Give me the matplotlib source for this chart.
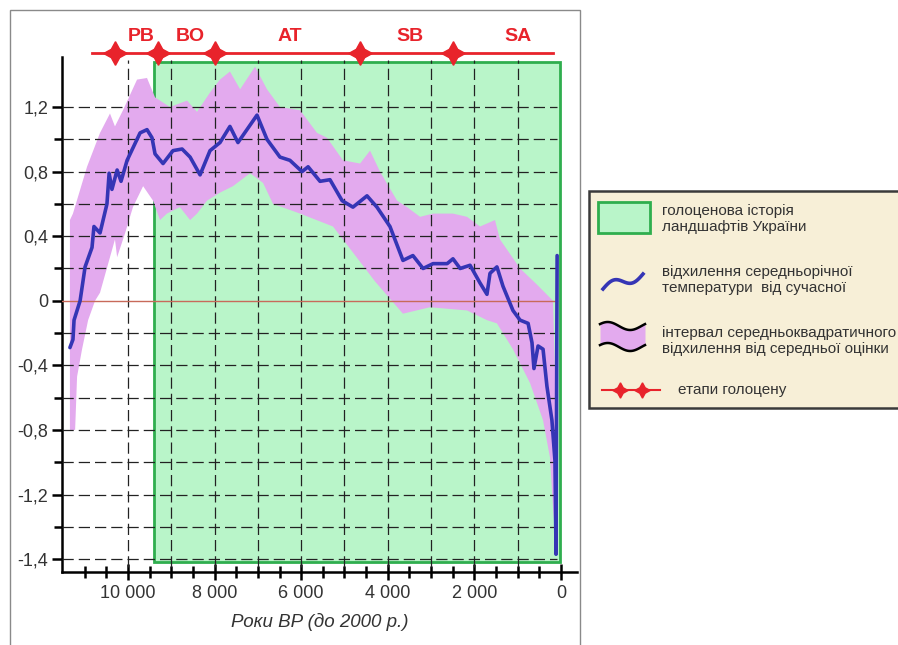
import numpy as np
import matplotlib.pyplot as plt
from matplotlib.patches import Rectangle

# mean deviation of annual temperature (years BP, deg C)
years_mean = [11340, 11270, 11245, 11105, 10990, 10830, 10785, 10645, 10485, 10435,
              10370, 10250, 10160, 10020, 9720, 9560, 9445, 9375, 9190, 8960,
              8750, 8565, 8335, 8105, 7875, 7645, 7460, 7020, 6790, 6490,
              6260, 5980, 5840, 5565, 5335, 5055, 4805, 4480, 4250, 3950,
              3650, 3420, 3185, 2955, 2630, 2495, 2330, 2100, 1870, 1710,
              1640, 1480, 1340, 1110, 945, 760, 670, 625, 530, 415,
              325, 210, 140, 115, 90]
temp_mean = [-0.29, -0.24, -0.12, 0.0, 0.21, 0.33, 0.46, 0.42, 0.60, 0.79,
             0.69, 0.81, 0.74, 0.87, 1.04, 1.06, 1.01, 0.91, 0.85, 0.93,
             0.94, 0.89, 0.78, 0.93, 0.98, 1.08, 0.98, 1.15, 1.00, 0.89,
             0.87, 0.80, 0.83, 0.74, 0.75, 0.62, 0.58, 0.65, 0.58, 0.46,
             0.25, 0.28, 0.20, 0.23, 0.23, 0.26, 0.20, 0.22, 0.11, 0.04,
             0.17, 0.21, 0.09, -0.06, -0.12, -0.14, -0.26, -0.42, -0.28, -0.30,
             -0.53, -0.74, -0.99, -1.57, 0.28]

# RMS interval: upper and lower boundaries
up_years = [11340, 11270, 10945, 10645, 10415, 10300, 10115, 9790, 9560, 9375,
            9030, 8635, 8405, 8105, 7875, 7645, 7410, 7065, 6790, 6490,
            6025, 5635, 5405, 5035, 4640, 4410, 4180, 3785, 3555, 3255,
            2955, 2495, 2170, 1870, 1525, 1410, 945, 555, 185, 90]
up_vals = [0.50, 0.54, 0.83, 1.04, 1.16, 1.08, 1.18, 1.37, 1.38, 1.26,
           1.20, 1.24, 1.17, 1.29, 1.37, 1.42, 1.31, 1.45, 1.31, 1.20,
           1.18, 1.04, 1.01, 0.87, 0.85, 0.93, 0.80, 0.62, 0.58, 0.52,
           0.54, 0.54, 0.52, 0.46, 0.50, 0.38, 0.20, 0.10, 0.0, -0.9]
lo_years = [11340, 11220, 11175, 11060, 10920, 10760, 10645, 10415, 10300, 10250,
            10065, 9885, 9650, 9420, 9260, 9100, 8800, 8565, 8405, 8175,
            7875, 7575, 7180, 6880, 6650, 6025, 5265, 5035, 4295, 3650,
            3025, 2170, 1710, 1480, 1110, 715, 415, 255, 185, 140, 90]
lo_vals = [-0.80, -0.80, -0.47, -0.30, -0.12, 0.0, 0.05, 0.27, 0.38, 0.27,
           0.42, 0.58, 0.71, 0.62, 0.50, 0.54, 0.58, 0.50, 0.54, 0.62,
           0.67, 0.71, 0.79, 0.73, 0.60, 0.54, 0.46, 0.38, 0.12, -0.08,
           -0.04, -0.06, -0.12, -0.14, -0.30, -0.51, -0.74, -0.97, -1.28, -1.44, -0.9]

# Holocene stages
stage_bounds = [10300, 9300, 8000, 4650, 2500]
stage_names = ['PB', 'BO', 'AT', 'SB', 'SA']
stage_label_x = [9700, 8570, 6260, 3490, 990]
stage_line = [10830, 185]

# green block: Holocene history of landscapes of Ukraine
landscape_span = [9400, 20]
landscape_range = [-1.62, 1.48]

ytick_pos = [-1.6, -1.2, -0.8, -0.4, 0, 0.4, 0.8, 1.2]
ytick_labels = ['-1,4', '-1,2', '-0,8', '-0,4', '0', '0,4', '0,8', '1,2']
xtick_pos = [10000, 8000, 6000, 4000, 2000, 0]
xtick_labels = ['10 000', '8 000', '6 000', '4 000', '2 000', '0']

GREEN = '#b9f5c9'
GREEN_EDGE = '#2fae4e'
PINK = '#e3aaee'
BLUE = '#3535b5'
RED = '#e8232b'
NARROW = ['Liberation Sans Narrow', 'Liberation Sans', 'DejaVu Sans']

W, H = 898, 645
fig = plt.figure(figsize=(W / 100, H / 100), dpi=100)
fig.patch.set_facecolor('white')

# outer frame around the chart
fig.add_artist(Rectangle((10 / W, -0.01), 570 / W, (H - 10) / H + 0.01,
                         transform=fig.transFigure, fill=False,
                         ec='#8a8a8a', lw=1))

ax = fig.add_axes([62 / W, (H - 572) / H, (577 - 62) / W, (572 - 57) / H])
ax.set_xlim(11523, -369)
ax.set_ylim(-1.68, 1.51)
ax.patch.set_alpha(0)

# green block
ax.add_patch(Rectangle((landscape_span[1], landscape_range[0]),
                       landscape_span[0] - landscape_span[1],
                       landscape_range[1] - landscape_range[0],
                       fc=GREEN, ec=GREEN_EDGE, lw=2, zorder=1))

# interval band
band_x = np.concatenate([up_years, lo_years[::-1]])
band_y = np.concatenate([up_vals, lo_vals[::-1]])
ax.fill(band_x, band_y, color=PINK, lw=0, zorder=2)

# dashed grid
dash = (0, (9, 4))
for yv in np.arange(-1.6, 1.21, 0.2):
    if abs(yv) < 1e-6:
        continue
    ax.axhline(yv, xmin=0, xmax=0.962, color='#222222', lw=0.9, ls=dash, zorder=3)
for xv in range(1000, 10001, 1000):
    ax.axvline(xv, ymin=0.01, ymax=0.995, color='#222222', lw=0.9, ls=dash, zorder=3)

ax.axhline(0, xmin=0, xmax=0.962, color='#c86a5a', lw=1, zorder=3)

ax.plot(years_mean, temp_mean, color=BLUE, lw=2.6, solid_joinstyle='round',
        solid_capstyle='round', zorder=4)

# stage bar above the plot
ax.plot(stage_line, [1.535, 1.535], color=RED, lw=2, clip_on=False, zorder=5)
ax.plot(stage_bounds, [1.535] * len(stage_bounds), ls='none', marker=(4, 1, 0),
        ms=17, color=RED, clip_on=False, zorder=6)
for name, xv in zip(stage_names, stage_label_x):
    ax.text(xv, 1.634, name, color=RED, fontsize=14, fontweight='bold',
            family=NARROW, ha='center', va='center', clip_on=False)

# axes styling
for side in ['top', 'right']:
    ax.spines[side].set_visible(False)
for side in ['left', 'bottom']:
    ax.spines[side].set_linewidth(1.8)
ax.set_yticks(ytick_pos)
ax.set_yticklabels(ytick_labels)
ax.set_yticks(np.arange(-1.4, 1.1, 0.4), minor=True)
ax.set_xticks(xtick_pos)
ax.set_xticklabels(xtick_labels)
ax.set_xticks(np.arange(500, 11001, 500), minor=True)
ax.tick_params(axis='y', which='major', length=7, width=1.8, direction='out',
               labelsize=13, labelcolor='#333333', pad=3)
ax.tick_params(axis='y', which='minor', length=6, width=1.8, direction='out')
ax.tick_params(axis='x', which='major', length=12, width=1.8, direction='inout',
               labelsize=13, labelcolor='#333333', pad=3)
ax.tick_params(axis='x', which='minor', length=8, width=1.8, direction='inout')
for lab in ax.get_xticklabels() + ax.get_yticklabels():
    lab.set_family(NARROW)
ax.set_xlabel('Роки BP (до 2000 р.)', fontsize=13.5, style='italic',
              family=NARROW, color='#333333', labelpad=8)

# legend box
lax = fig.add_axes([589 / W, (H - 408) / H, 330 / W, (408 - 191) / H])
lax.set_xlim(589, 919)
lax.set_ylim(408, 191)
lax.axis('off')
lax.add_patch(Rectangle((589, 191), 330, 217, fc='#f7efd7', ec='#3a3a3a', lw=1.8,
                        clip_on=False))
lax.add_patch(Rectangle((598, 202), 52, 31, fc=GREEN, ec=GREEN_EDGE, lw=2))
t = np.linspace(0, 1, 60)
lax.plot(603 + 40 * t, 289 - 15 * t - 5 * np.sin(2 * np.pi * t), color=BLUE, lw=2.6)
wx = 600 + 45 * t
top_w = 326 - 4 * np.sin(2 * np.pi * t + 0.5)
bot_w = 347 - 4 * np.sin(2 * np.pi * t + 0.5)
lax.fill_between(wx, top_w, bot_w, color=PINK, lw=0)
lax.plot(wx, top_w, color='black', lw=1.8)
lax.plot(wx, bot_w, color='black', lw=1.8)
lax.plot([602, 660], [390, 390], color=RED, lw=1.5)
lax.plot([620, 642], [390, 390], ls='none', marker=(4, 1, 0), ms=11, color=RED)

legend_texts = [
    (662, 219, 'голоценова історія\nландшафтів України'),
    (662, 280, 'відхилення середньорічної\nтемператури  від сучасної'),
    (662, 341, 'інтервал середньоквадратичного\nвідхилення від середньої оцінки'),
    (678, 390, 'етапи голоцену'),
]
for tx, ty, s in legend_texts:
    lax.text(tx, ty, s, fontsize=11, family=['Liberation Sans', 'DejaVu Sans'],
             color='#333333', va='center', ha='left', linespacing=1.2,
             clip_on=False)

fig.savefig('out.png', dpi=100)
